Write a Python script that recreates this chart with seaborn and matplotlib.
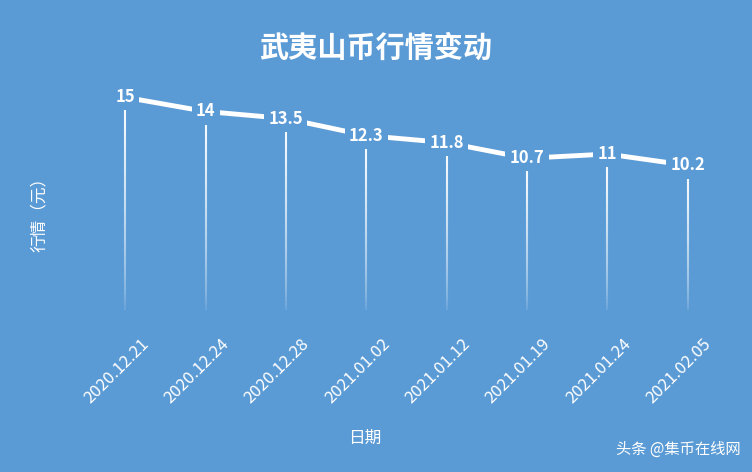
import matplotlib
matplotlib.use("Agg")
import matplotlib.pyplot as plt
import matplotlib.transforms as mtransforms
import seaborn as sns
import pandas as pd
import numpy as np

dates = ["2020.12.21","2020.12.24","2020.12.28","2021.01.02","2021.01.12","2021.01.19","2021.01.24","2021.02.05"]
prices = [15, 14, 13.5, 12.3, 11.8, 10.7, 11, 10.2]
labels = ["15","14","13.5","12.3","11.8","10.7","11","10.2"]

sns.set_theme(style="white")
plt.rcParams['font.family'] = ['Noto Sans CJK SC', 'DejaVu Sans']
bg = "#5b9bd5"
fig = plt.figure(figsize=(7.52, 4.72), dpi=100, facecolor=bg)
ax = fig.add_axes([0.113, 0.343, 0.855, 0.481])
ax.set_facecolor(bg)
df = pd.DataFrame({"date": dates, "price": prices})
sns.lineplot(data=df, x="date", y="price", ax=ax, color="white", linewidth=3.5, sort=False)
x = np.arange(len(dates))
for xi, p in zip(x, prices):
    top = p - 0.9
    n = 40
    ys = np.linspace(top, 0, n + 1)
    for k in range(n):
        a = 0.95 * (1 - k / n) ** 0.6
        ax.plot([xi, xi], [ys[k], ys[k+1]], color="white", alpha=a, lw=1.5, solid_capstyle="butt")
for xi, p, l in zip(x, prices, labels):
    ax.text(xi, p, l, ha="center", va="center", color="white", fontsize=12, fontweight="bold",
            bbox=dict(boxstyle="square,pad=0.25", fc=bg, ec="none"))
ax.set_ylim(0, 16)
ax.set_xlim(-0.5, len(dates) - 0.5)
ax.set_yticks([])
ax.set_xticks(x)
ax.set_xticklabels(dates, rotation=45, ha="right", rotation_mode="anchor", color="white", fontsize=12)
ax.tick_params(axis="x", length=0, pad=18)
offset = mtransforms.ScaledTranslation(15/100, 0, fig.dpi_scale_trans)
for t in ax.get_xticklabels():
    t.set_transform(t.get_transform() + offset)
for s in ax.spines.values():
    s.set_visible(False)
ax.set_xlabel("")
ax.set_ylabel("")
fig.text(0.5, 0.9, "武夷山币行情变动", ha="center", va="center", color="white", fontsize=21, fontweight="bold")
fig.text(0.485, 0.072, "日期", ha="center", va="center", color="white", fontsize=12)
fig.text(0.052, 0.555, "行情（元）", ha="center", va="center", color="white", fontsize=12, rotation=90)
fig.text(0.985, 0.03, "头条 @集币在线网", ha="right", va="bottom", color="white", fontsize=11)
fig.savefig("out.png", dpi=100, facecolor=bg)
